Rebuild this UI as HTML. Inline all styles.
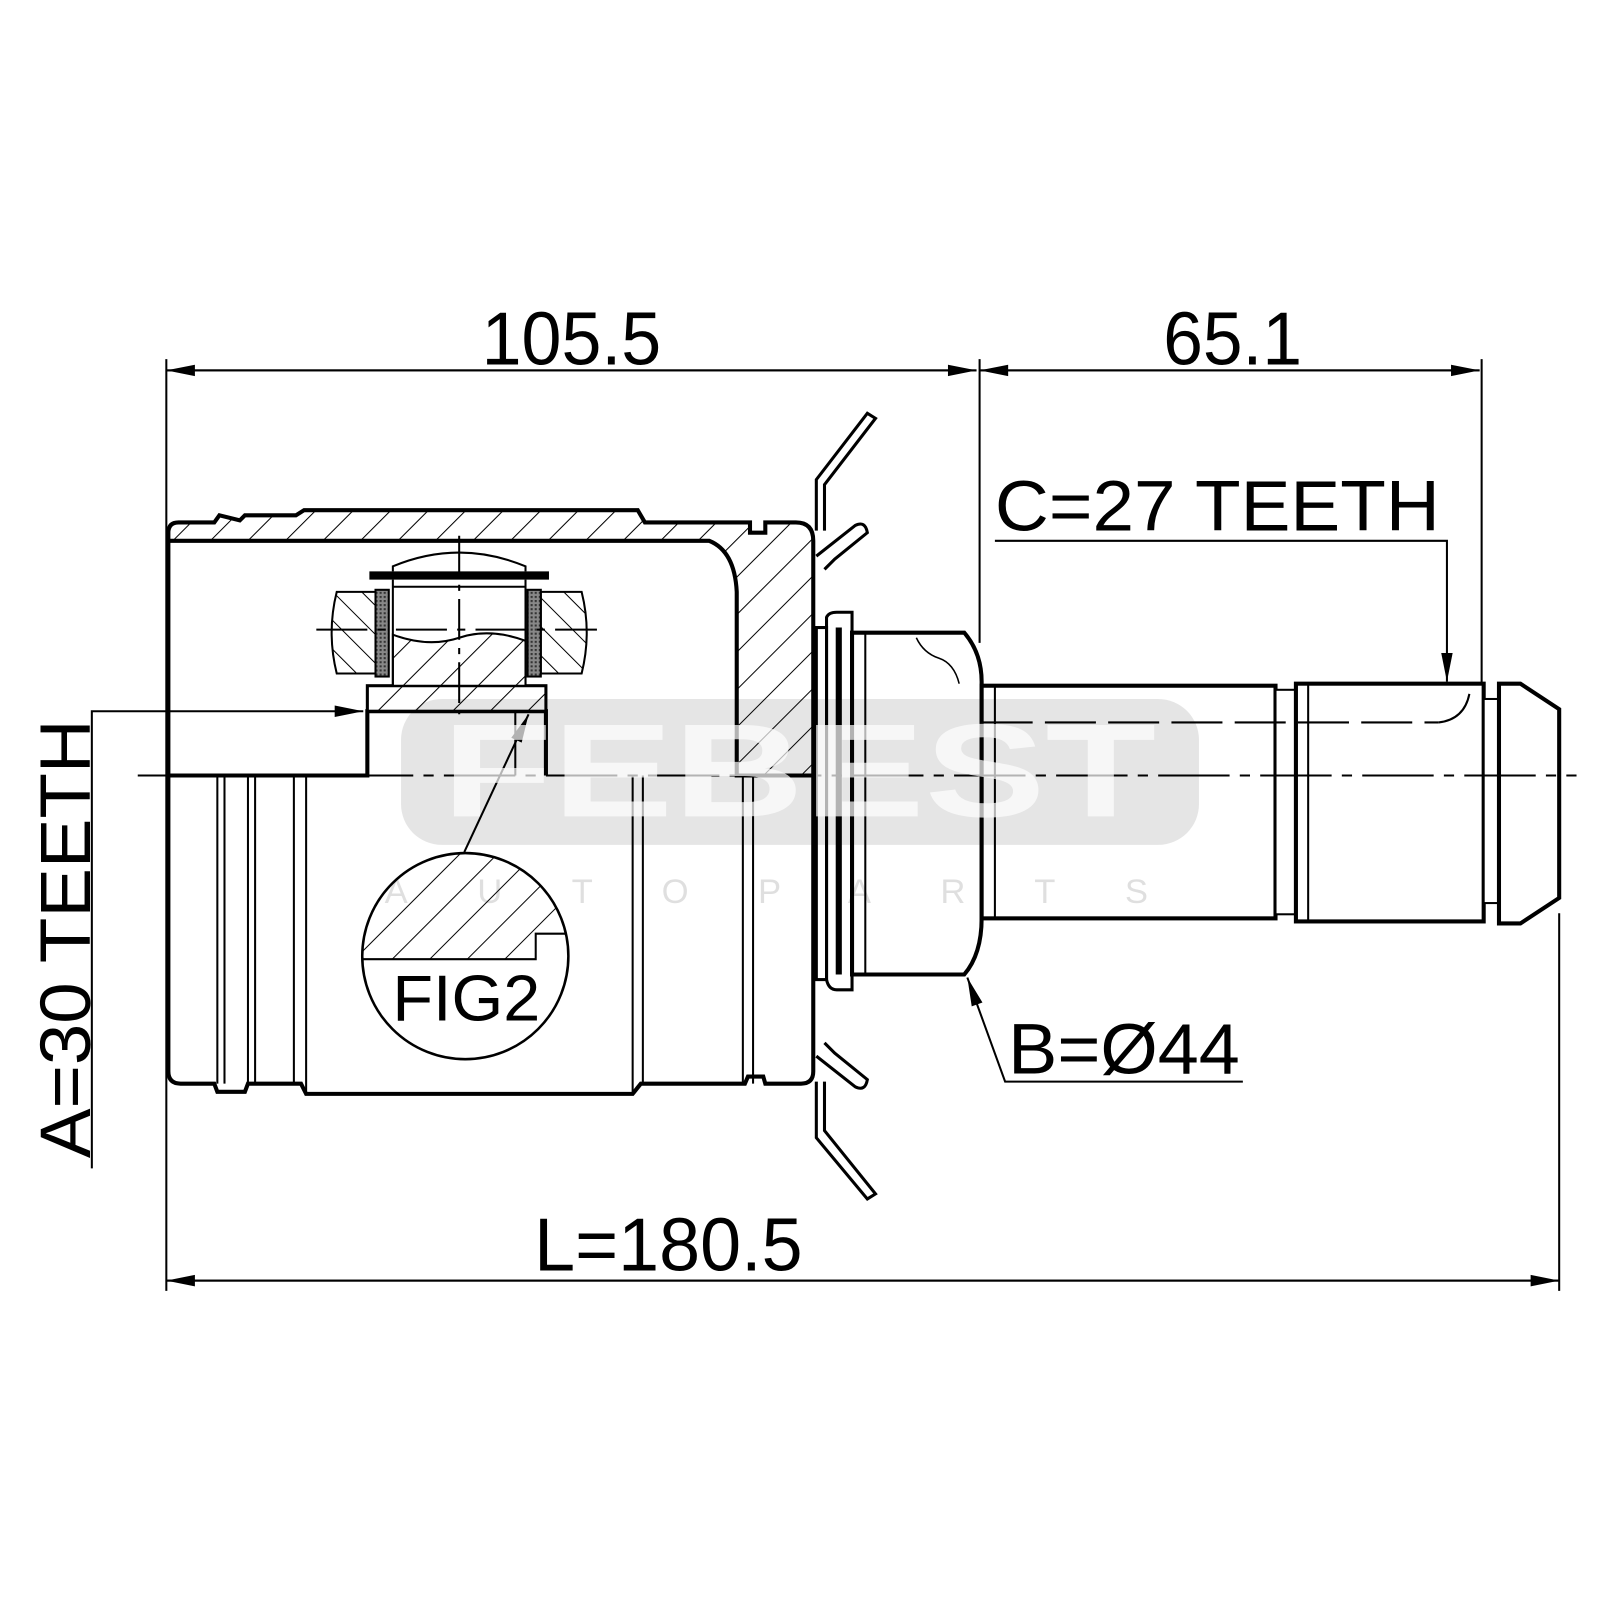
<!DOCTYPE html>
<html><head><meta charset="utf-8"><style>
html,body{margin:0;padding:0;background:#fff;}
svg{display:block;}
text{font-family:"Liberation Sans",Arial,sans-serif;fill:#000;}
</style></head><body>
<svg width="1600" height="1600" viewBox="0 0 1568 1568" xmlns="http://www.w3.org/2000/svg">
<defs>
<pattern id="h" width="26" height="26" patternUnits="userSpaceOnUse" patternTransform="rotate(45)">
<rect width="26" height="26" fill="#fff"/><line x1="0" y1="0" x2="0" y2="26" stroke="#000" stroke-width="2"/></pattern>
<pattern id="h2" width="20" height="20" patternUnits="userSpaceOnUse" patternTransform="rotate(-45)">
<rect width="20" height="20" fill="#fff"/><line x1="0" y1="0" x2="0" y2="20" stroke="#000" stroke-width="2"/></pattern>
<pattern id="nd" width="4" height="4" patternUnits="userSpaceOnUse"><rect width="4" height="4" fill="#888"/><rect width="2" height="2" fill="#333"/></pattern>
<marker id="a" viewBox="0 0 20 10" refX="20" refY="5" markerWidth="40" markerHeight="14" markerUnits="userSpaceOnUse" orient="auto"><path d="M0,1 L20,5 L0,9 Z" fill="#000"/></marker>
</defs>

<g stroke="#000" fill="none" stroke-width="2">
<line x1="163" y1="352" x2="163" y2="1265"/>
<line x1="960" y1="352" x2="960" y2="630"/>
<line x1="1452" y1="352" x2="1452" y2="672"/>
<line x1="1528" y1="895" x2="1528" y2="1265"/>
<line x1="163" y1="363" x2="957" y2="363" marker-end="url(#a)"/>
<line x1="957" y1="363" x2="163" y2="363" marker-end="url(#a)"/>
<line x1="960" y1="363" x2="1450" y2="363" marker-end="url(#a)"/>
<line x1="1450" y1="363" x2="960" y2="363" marker-end="url(#a)"/>
<line x1="163" y1="1255" x2="1528" y2="1255" marker-end="url(#a)"/>
<line x1="1528" y1="1255" x2="163" y2="1255" marker-end="url(#a)"/>
<polyline points="90,1145 90,697 356,697" marker-end="url(#a)"/>
<polyline points="975,530 1418,530 1418,668" marker-end="url(#a)"/>
<polyline points="1218,1060 985,1060 948,958" marker-end="url(#a)"/>
<line x1="455" y1="835" x2="518" y2="700" marker-end="url(#a)"/>
</g>

<path d="M165,530 L165,522 Q165,512 175,512 L210,512 L215,505 L235,510 L240,505 L290,505 L298,500 L625,500 L632,512 L735,512 L735,522 L750,522 L750,512 L780,512 Q797,512 797,530 L797,760 L722,760 L722,580 Q720,540 695,530 Z" fill="url(#h)" stroke="#000" stroke-width="4"/>
<path d="M165,530 L695,530 Q720,540 722,580 L722,760" fill="none" stroke="#000" stroke-width="2.5"/>
<path d="M165,530 L165,1050 Q165,1062 177,1062 L210,1062 L213,1070 L240,1070 L243,1062 L295,1062 L300,1072 L620,1072 L628,1062 L730,1062 L733,1055 L748,1055 L750,1062 L785,1062 Q797,1062 797,1050 L797,760" fill="none" stroke="#000" stroke-width="4"/>
<g stroke="#000" stroke-width="2">
<line x1="213" y1="760" x2="213" y2="1062"/><line x1="220" y1="760" x2="220" y2="1062"/>
<line x1="243" y1="760" x2="243" y2="1062"/><line x1="250" y1="760" x2="250" y2="1062"/>
<line x1="288" y1="760" x2="288" y2="1062"/><line x1="300" y1="760" x2="300" y2="1072"/>
<line x1="620" y1="760" x2="620" y2="1072"/><line x1="630" y1="760" x2="630" y2="1062"/>
<line x1="728" y1="760" x2="728" y2="1062"/><line x1="738" y1="760" x2="738" y2="1062"/>
</g>
<path d="M165,760 L360,760 L360,697 L535,697 L535,760" fill="none" stroke="#000" stroke-width="4"/>
<line x1="505" y1="697" x2="505" y2="760" stroke="#000" stroke-width="2"/>
<rect x="360" y="672" width="175" height="25" fill="url(#h)" stroke="#000" stroke-width="3"/>
<path d="M385,622 Q420,635 450,625 Q480,615 515,628 L515,672 L385,672 Z" fill="url(#h)" stroke="#000" stroke-width="2"/>
<path d="M330,580 L368,580 L368,660 L330,660 Q320,620 330,580 Z" fill="url(#h2)" stroke="#000" stroke-width="2"/>
<path d="M570,580 L530,580 L530,660 L570,660 Q580,620 570,580 Z" fill="url(#h2)" stroke="#000" stroke-width="2"/>
<rect x="368" y="578" width="13" height="85" fill="url(#nd)" stroke="#000" stroke-width="2"/>
<rect x="517" y="578" width="13" height="85" fill="url(#nd)" stroke="#000" stroke-width="2"/>
<path d="M362,568 L362,560 L538,560 L538,568 Z" fill="#000"/>
<path d="M385,560 L385,555 Q450,528 515,555 L515,560" fill="none" stroke="#000" stroke-width="2"/>
<line x1="385" y1="575" x2="515" y2="575" stroke="#000" stroke-width="2"/>
<line x1="385" y1="568" x2="385" y2="672" stroke="#000" stroke-width="2"/>
<line x1="515" y1="568" x2="515" y2="672" stroke="#000" stroke-width="2"/>
<line x1="450" y1="525" x2="450" y2="700" stroke="#000" stroke-width="2" stroke-dasharray="40,8,6,8"/>
<line x1="310" y1="617" x2="585" y2="617" stroke="#000" stroke-width="2" stroke-dasharray="50,10,8,10"/>

<clipPath id="c"><circle cx="456" cy="937" r="101"/></clipPath>
<path d="M350,940 L525,940 L525,915 L560,915 L560,830 L350,830 Z" fill="url(#h)" clip-path="url(#c)" stroke="#000" stroke-width="2"/>
<circle cx="456" cy="937" r="101" fill="none" stroke="#000" stroke-width="2.5"/>
<text x="457" y="1000" font-size="64" text-anchor="middle" textLength="145" lengthAdjust="spacingAndGlyphs">FIG2</text>

<g fill="none" stroke="#000" stroke-width="3">
<path d="M800,520 L800,470 L850,405 L858,410 L808,475 L808,520"/>
<path d="M800,545 L838,515 Q848,510 850,522 L818,548 L808,558"/>
<path d="M800,1060 L800,1115 L850,1175 L858,1170 L808,1108 L808,1060"/>
<path d="M800,1035 L838,1065 Q848,1070 850,1058 L818,1032 L808,1022"/>
</g>
<path d="M810,615 L810,605 Q812,600 820,600 L835,600 L835,970 L820,970 Q812,970 810,960 Z" fill="#fff" stroke="#000" stroke-width="3"/>
<rect x="800" y="615" width="10" height="345" fill="#fff" stroke="#000" stroke-width="3"/>
<line x1="822" y1="615" x2="822" y2="955" stroke="#000" stroke-width="6"/>
<path d="M835,620 L945,620 Q962,640 962,668 L962,900 Q962,935 945,955 L835,955 Z" fill="#fff" stroke="#000" stroke-width="4"/>
<line x1="848" y1="620" x2="848" y2="955" stroke="#000" stroke-width="2"/>
<path d="M898,625 Q905,640 920,645 Q935,650 940,670" fill="none" stroke="#000" stroke-width="1.5"/>
<rect x="962" y="672" width="288" height="228" fill="#fff" stroke="#000" stroke-width="4"/>
<line x1="975" y1="672" x2="975" y2="900" stroke="#000" stroke-width="2"/>
<rect x="1250" y="676" width="20" height="220" fill="#fff" stroke="#000" stroke-width="2"/>
<rect x="1270" y="670" width="184" height="233" fill="#fff" stroke="#000" stroke-width="4"/>
<rect x="1282" y="670" width="172" height="233" fill="none" stroke="#000" stroke-width="2"/>
<rect x="1454" y="685" width="15" height="200" fill="#fff" stroke="#000" stroke-width="2"/>
<path d="M1469,670 L1490,670 L1528,695 L1528,880 L1490,905 L1469,905 Z" fill="#fff" stroke="#000" stroke-width="4"/>
<line x1="962" y1="708" x2="1410" y2="708" stroke="#000" stroke-width="2" stroke-dasharray="50,12"/>
<path d="M1410,708 Q1435,705 1440,680" fill="none" stroke="#000" stroke-width="2"/>
<line x1="135" y1="760" x2="1545" y2="760" stroke="#000" stroke-width="2" stroke-dasharray="70,10,10,10"/>

<!-- watermark overlay -->
<rect x="393" y="685" width="782" height="143" rx="40" fill="#000" opacity="0.1"/>
<text x="783" y="800" font-size="130" font-weight="bold" text-anchor="middle" style="fill:#fff" opacity="0.7" textLength="700" lengthAdjust="spacingAndGlyphs">FEBEST</text>
<text x="785" y="885" font-size="34" text-anchor="middle" style="fill:#000" opacity="0.12" letter-spacing="68">AUTOPARTS</text>

<text x="560" y="357" font-size="74" text-anchor="middle" textLength="176" lengthAdjust="spacingAndGlyphs">105.5</text>
<text x="1208" y="357" font-size="74" text-anchor="middle" textLength="136" lengthAdjust="spacingAndGlyphs">65.1</text>
<text x="975" y="520" font-size="70" textLength="436" lengthAdjust="spacingAndGlyphs">C=27 TEETH</text>
<text x="988" y="1052" font-size="70" textLength="227" lengthAdjust="spacingAndGlyphs">B=Ø44</text>
<text x="655" y="1245" font-size="74" text-anchor="middle" textLength="263" lengthAdjust="spacingAndGlyphs">L=180.5</text>
<text transform="translate(88,920) rotate(-90)" font-size="70" text-anchor="middle" textLength="430" lengthAdjust="spacingAndGlyphs">A=30 TEETH</text>
</svg>
</body></html>
